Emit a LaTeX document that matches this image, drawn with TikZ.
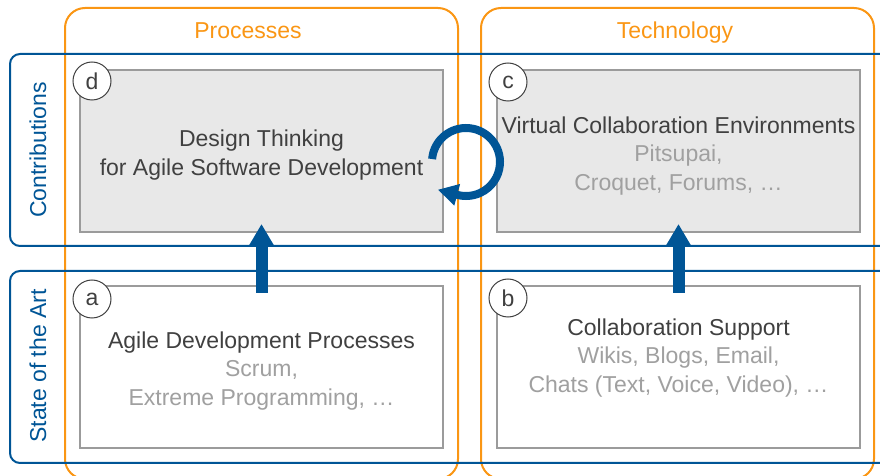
\documentclass[tikz,border=0pt]{standalone}
\usepackage{fontspec}
\setmainfont{Liberation Sans}
\usetikzlibrary{arrows.meta}
\definecolor{orangeline}{RGB}{250,150,20}
\definecolor{blueline}{RGB}{0,85,150}
\definecolor{boxgray}{RGB}{155,155,155}
\definecolor{boxfill}{RGB}{232,232,232}
\definecolor{darktext}{RGB}{64,64,64}
\definecolor{lighttext}{RGB}{160,160,160}
\begin{document}
\begin{tikzpicture}[x=0.5pt,y=-0.5pt,
    every node/.style={font=\fontsize{11.5}{14.3}\selectfont},
    column/.style={draw=orangeline, line width=1pt, rounded corners=10pt},
    colhead/.style={text=orangeline, anchor=base},
    rowframe/.style={draw=blueline, line width=1pt, rounded corners=5pt},
    rowlabel/.style={text=blueline, rotate=90},
    topicbox/.style={draw=boxgray, line width=1pt, minimum width=181.5pt, minimum height=81pt, inner sep=0pt},
    topictext/.style={align=center, text=darktext},
    tag/.style={circle, draw=darktext, fill=white, line width=0.5pt, minimum size=19pt, inner sep=0pt, text=darktext},
    liftarrow/.style={blueline, line width=6pt, -{Triangle[width=12pt,length=11pt]}},
    cyclearrow/.style={blueline, line width=4pt, -{Triangle[width=10.5pt,length=10pt]}}]
            \useasboundingbox (0,0) rectangle (880,476);

            \draw[column] (65,8) rectangle (458,479);
            \draw[column] (481,8) rectangle (874,479);
            \node[colhead] (processes) at (248,39) {Processes};
            \node[colhead] (technology) at (675,39) {Technology};

            \draw[rowframe] (900,54) -- (10,54) -- (10,246) -- (900,246);
            \draw[rowframe] (900,271) -- (10,271) -- (10,463) -- (900,463);
            \node[rowlabel] (contributions) at (38,150) {Contributions};
            \node[rowlabel] (stateart) at (38,366) {State of the Art};

            \node[topicbox, fill=boxfill] (d) at (261.5,151) {};
            \node[topicbox, fill=boxfill] (c) at (678.5,151) {};
            \node[topicbox, fill=white] (a) at (261.5,367) {};
            \node[topicbox, fill=white] (b) at (678.5,367) {};

            \node[topictext] (dtext) at ([yshift=-2pt]d.center) {Design Thinking\\for Agile Software Development};
            \node[topictext] (ctext) at ([yshift=-2.5pt]c.center) {Virtual Collaboration Environments\\\textcolor{lighttext}{Pitsupai,}\\\textcolor{lighttext}{Croquet, Forums, …}};
            \node[topictext] (atext) at ([yshift=-2pt]a.center) {Agile Development Processes\\\textcolor{lighttext}{Scrum,}\\\textcolor{lighttext}{Extreme Programming, …}};
            \node[topictext] (btext) at ([yshift=4.5pt]b.center) {Collaboration Support\\\textcolor{lighttext}{Wikis, Blogs, Email,}\\\textcolor{lighttext}{Chats (Text, Voice, Video), …}};

            \node[tag] (dtag) at (92,81) {d};
            \node[tag] (ctag) at (508,82) {c};
            \node[tag] (atag) at (92,299) {a};
            \node[tag] (btag) at (508,298) {b};

            \draw[liftarrow] ([yshift=-4pt]a.north) -- ([yshift=4.5pt]d.south);
            \draw[liftarrow] ([yshift=-4pt]b.north) -- ([yshift=4.5pt]c.south);

            \coordinate (cycle) at (466,162);
            \draw[cyclearrow] ([shift={(175:17pt)}]cycle) arc[start angle=175, end angle=-105, radius=17pt] -- ++(165:10pt);
\end{tikzpicture}
\end{document}
